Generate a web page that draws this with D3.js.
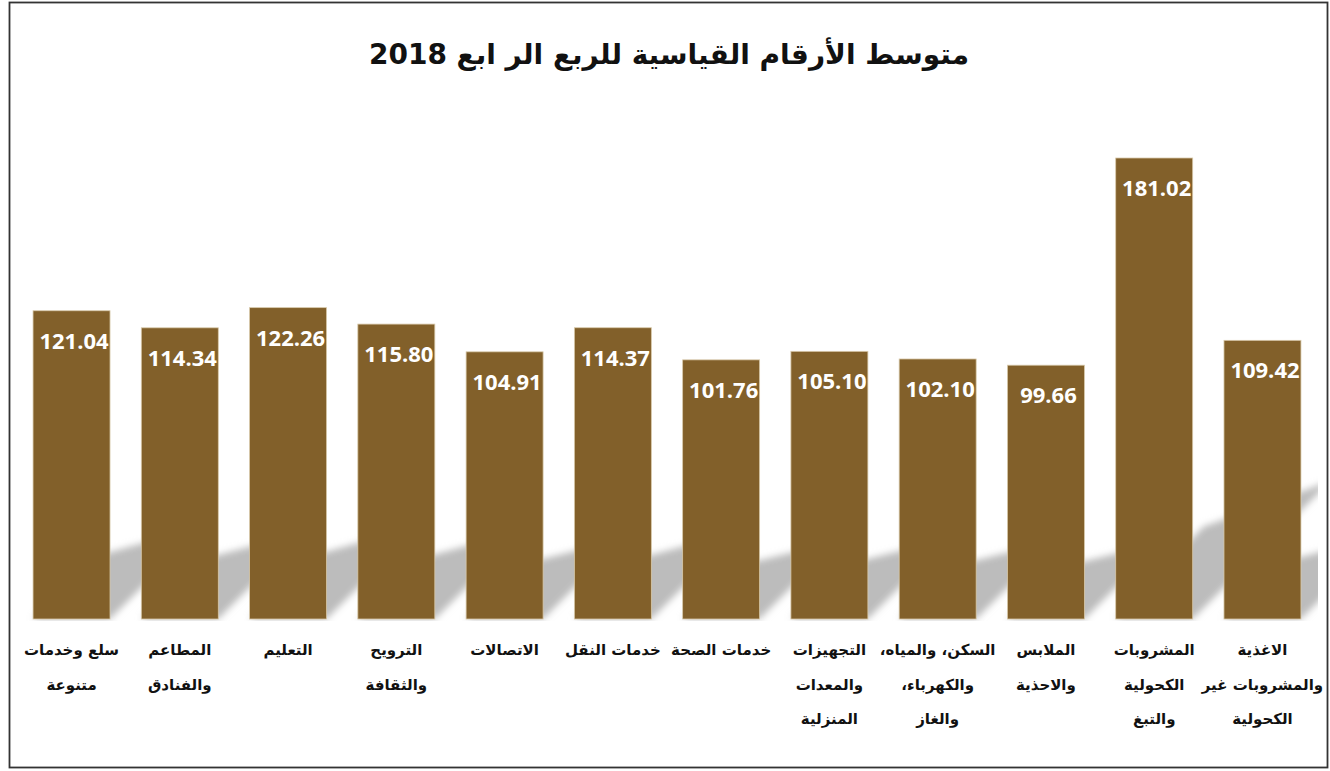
<!DOCTYPE html>
<html>
<head>
<meta charset="utf-8">
<script src="https://cdn.jsdelivr.net/npm/d3@7"></script>
<style>
  body { margin: 0; background: #fff; }
  text.value { font-family: 'Open Sans', sans-serif; font-weight: 700; fill: #fff; }
  text.cat, text.title { font-family: 'DejaVu Sans', sans-serif; font-weight: 700; fill: #111; }
</style>
</head>
<body>
<svg id="chart"></svg>
<script>
// ---------------------- data ----------------------
const title = 'متوسط الأرقام القياسية للربع الر ابع 2018';

const categories = [
  'سلع وخدمات متنوعة',
  'المطاعم والفنادق',
  'التعليم',
  'الترويح والثقافة',
  'الاتصالات',
  'خدمات النقل',
  'خدمات الصحة',
  'التجهيزات والمعدات المنزلية',
  'السكن، والمياه، والكهرباء، والغاز',
  'الملابس والاحذية',
  'المشروبات الكحولية والتبغ',
  'الاغذية والمشروبات غير الكحولية'
];

// label lines as wrapped in the picture
const categoryLines = [
  ['سلع وخدمات', 'متنوعة'],
  ['المطاعم', 'والفنادق'],
  ['التعليم'],
  ['الترويح', 'والثقافة'],
  ['الاتصالات'],
  ['خدمات النقل'],
  ['خدمات الصحة'],
  ['التجهيزات', 'والمعدات', 'المنزلية'],
  ['السكن، والمياه،', 'والكهرباء،', 'والغاز'],
  ['الملابس', 'والاحذية'],
  ['المشروبات', 'الكحولية', 'والتبغ'],
  ['الاغذية', 'والمشروبات غير', 'الكحولية']
];

const values = [121.04, 114.34, 122.26, 115.80, 104.91, 114.37, 101.76, 105.10, 102.10, 99.66, 181.02, 109.42];

// ---------------------- layout ----------------------
const width = 1330,
      height = 771,
      barColor = '#82602a';

const svg = d3.select('svg#chart')
    .attr('width', width)
    .attr('height', height);

const data = categories.map((c, i) => ({ cat: c, lines: categoryLines[i], value: values[i] }));

//-----------scales-----------------
const x = d3.scaleBand()
    .domain(categories)
    .range([17.4, 1316.6])
    .paddingInner(0.289)
    .paddingOuter(0.1445);

const y = d3.scaleLinear()
    .domain([0, 181.02])
    .range([619, 158]);

//-----------defs: blur + clip-----------------
const defs = svg.append('defs');
defs.append('filter')
    .attr('id', 'blur')
    .attr('x', '-20%').attr('y', '-20%')
    .attr('width', '140%').attr('height', '140%')
  .append('feGaussianBlur')
    .attr('stdDeviation', 3.5);

defs.append('clipPath')
    .attr('id', 'plot-clip')
  .append('rect')
    .attr('x', 10).attr('y', 100)
    .attr('width', 1308).attr('height', 521);

//-----------border-----------------
svg.append('rect')
    .attr('x', 9.5).attr('y', 2.5)
    .attr('width', 1318).attr('height', 765)
    .attr('fill', '#fff')
    .attr('stroke', '#333')
    .attr('stroke-width', 1.8);

//-----------title-----------------
svg.append('text')
    .classed('title', true)
    .attr('x', 669)
    .attr('y', 64)
    .attr('direction', 'rtl')
    .style('text-anchor', 'middle')
    .style('font-size', '28px')
    .text(title);

//-----------shadows (perspective, behind the bars)-----------------
const base = y(0);
svg.append('g')
    .attr('clip-path', 'url(#plot-clip)')
  .append('g')
    .attr('filter', 'url(#blur)')
  .selectAll('polygon')
  .data(data)
  .join('polygon')
    .attr('fill', '#bcbcbc')
    .attr('points', d => {
      const x0 = x(d.cat), x1 = x0 + x.bandwidth(), h = base - y(d.value);
      return [
        [x0, base],
        [x1, base],
        [x1 + 0.3 * h, base - 0.3 * h],
        [x0 + 0.19 * h, base - 0.2 * h]
      ].map(p => p.join(',')).join(' ');
    });

//-----------bars-----------------
svg.append('g')
  .selectAll('rect')
  .data(data)
  .join('rect')
    .attr('x', d => x(d.cat))
    .attr('y', d => y(d.value))
    .attr('width', x.bandwidth())
    .attr('height', d => base - y(d.value))
    .attr('fill', barColor)
    .attr('stroke', '#d8c9aa')
    .attr('stroke-width', 0.8);

//-----------value labels-----------------
svg.append('g')
  .selectAll('text')
  .data(data)
  .join('text')
    .classed('value', true)
    .attr('x', d => x(d.cat) + x.bandwidth() / 2 + 2.5)
    .attr('y', d => y(d.value) + 38)
    .style('text-anchor', 'middle')
    .style('font-size', '22px')
    .text(d => d.value.toFixed(2));

//-----------category labels-----------------
const cats = svg.append('g')
  .selectAll('text')
  .data(data)
  .join('text')
    .classed('cat', true)
    .attr('direction', 'rtl')
    .style('text-anchor', 'middle')
    .style('font-size', '15px');

cats.selectAll('tspan')
  .data(d => d.lines.map(l => ({ line: l, cx: x(d.cat) + x.bandwidth() / 2 })))
  .join('tspan')
    .attr('x', d => d.cx)
    .attr('y', (d, i) => 655 + i * 34.5)
    .text(d => d.line);
</script>
</body>
</html>
